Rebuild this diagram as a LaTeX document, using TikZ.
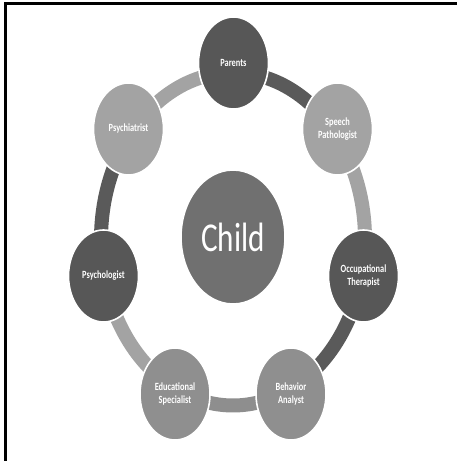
\documentclass[tikz,border=0pt]{standalone}
\usepackage{fontspec}
\setmainfont{Carlito}
\newfontfamily\narrowfont[FakeStretch=0.76]{Carlito}
\usetikzlibrary{shapes.geometric,calc}

\definecolor{ringdark}{HTML}{5A5A5A}
\definecolor{ringlight}{HTML}{A3A3A3}
\definecolor{ringmid}{HTML}{8E8E8E}
\definecolor{nodedark}{HTML}{575757}
\definecolor{nodelight}{HTML}{A3A3A3}
\definecolor{nodemid}{HTML}{8F8F8F}
\definecolor{nodecore}{HTML}{707070}

\tikzset{
  ringseg/.style={line width=14pt, line cap=butt},
  member/.style={ellipse, draw=white, line width=1.6pt, inner sep=0pt,
    minimum width=70pt, minimum height=92pt, text=white, align=center,
    font=\narrowfont\bfseries\fontsize{11}{12.5}\selectfont},
  core/.style={ellipse, draw=white, line width=1.6pt, inner sep=0pt,
    minimum width=104pt, minimum height=134pt, fill=nodecore, text=white,
    font=\narrowfont\fontsize{41}{45}\selectfont},
}

\begin{document}
\begin{tikzpicture}[x=1pt, y=1pt]
  \useasboundingbox (0,0) rectangle (457,461);
  \fill[white] (0,0) rectangle (457,461);

  % frame (top and left edges)
  \draw[line width=2.6pt] (5.5,0) -- (5.5,457.5) -- (457,457.5);

  % ring centre
  \coordinate (rc) at (233,222);

  % ring segments between neighbouring members
  \def\rx{132}\def\ry{166.5}
  \foreach \a/\b/\c in {90/38.57/ringdark, 38.57/-12.86/ringlight,
      -12.86/-64.29/ringdark, -64.29/-115.71/ringmid,
      -115.71/-167.14/ringlight, -167.14/-218.57/ringdark,
      141.43/90/ringlight}{
    \draw[ringseg, draw=\c] ($(rc)+({\rx*cos(\a)},{\ry*sin(\a)})$)
      arc[start angle=\a, end angle=\b, x radius=\rx, y radius=\ry];
  }

  % members of the team
  \node[member, fill=nodedark]  (parents) at (233.5,398) {Parents};
  \node[member, fill=nodelight] (speech)  at (337.5,332) {Speech\\Pathologist};
  \node[member, fill=nodedark]  (occ)     at (363.5,185) {Occupational\\Therapist};
  \node[member, fill=nodemid]   (beh)     at (291,67)    {Behavior\\Analyst};
  \node[member, fill=nodemid]   (edu)     at (175,67)    {Educational\\Specialist};
  \node[member, fill=nodedark]  (psylog)  at (103.5,185) {Psychologist};
  \node[member, fill=nodelight] (psyiat)  at (128.5,332) {Psychiatrist};

  % centre
  \node[core] (child) at (233,224) {Child};
\end{tikzpicture}
\end{document}
